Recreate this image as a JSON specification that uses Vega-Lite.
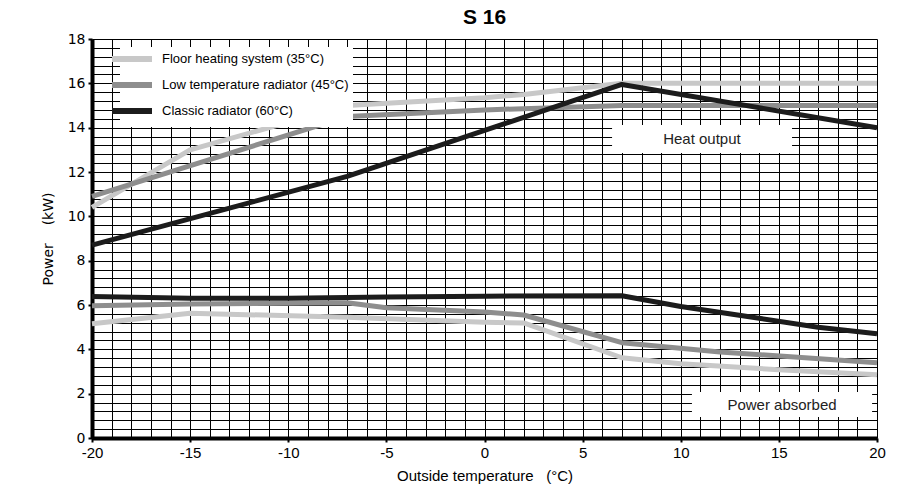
{
  "$schema": "https://vega.github.io/schema/vega-lite/v6.json",
  "width": 785,
  "height": 399,
  "autosize": {"type": "none"},
  "padding": {"left": 92, "top": 39, "right": 27, "bottom": 63},
  "background": "white",
  "title": {"text": "S 16", "font": "Liberation Sans", "fontSize": 21, "fontWeight": "bold", "anchor": "middle", "offset": 4, "color": "black"},
  "config": {"view": {"stroke": null}},
  "data": {"values": [
    {"series": "Floor heating system (35°C)", "kind": "Heat output", "t": -20, "p": 10.4},
    {"series": "Floor heating system (35°C)", "kind": "Heat output", "t": -15, "p": 13.0},
    {"series": "Floor heating system (35°C)", "kind": "Heat output", "t": -7, "p": 15.0},
    {"series": "Floor heating system (35°C)", "kind": "Heat output", "t": 0, "p": 15.35},
    {"series": "Floor heating system (35°C)", "kind": "Heat output", "t": 2, "p": 15.5},
    {"series": "Floor heating system (35°C)", "kind": "Heat output", "t": 7, "p": 16.0},
    {"series": "Floor heating system (35°C)", "kind": "Heat output", "t": 20, "p": 16.0},
    {"series": "Floor heating system (35°C)", "kind": "Power absorbed", "t": -20, "p": 5.15},
    {"series": "Floor heating system (35°C)", "kind": "Power absorbed", "t": -15, "p": 5.63},
    {"series": "Floor heating system (35°C)", "kind": "Power absorbed", "t": -7, "p": 5.45},
    {"series": "Floor heating system (35°C)", "kind": "Power absorbed", "t": 0, "p": 5.22},
    {"series": "Floor heating system (35°C)", "kind": "Power absorbed", "t": 2, "p": 5.19},
    {"series": "Floor heating system (35°C)", "kind": "Power absorbed", "t": 7, "p": 3.62},
    {"series": "Floor heating system (35°C)", "kind": "Power absorbed", "t": 10, "p": 3.35},
    {"series": "Floor heating system (35°C)", "kind": "Power absorbed", "t": 15, "p": 3.08},
    {"series": "Floor heating system (35°C)", "kind": "Power absorbed", "t": 20, "p": 2.85},
    {"series": "Low temperature radiator (45°C)", "kind": "Heat output", "t": -20, "p": 10.9},
    {"series": "Low temperature radiator (45°C)", "kind": "Heat output", "t": -7, "p": 14.5},
    {"series": "Low temperature radiator (45°C)", "kind": "Heat output", "t": 0, "p": 14.8},
    {"series": "Low temperature radiator (45°C)", "kind": "Heat output", "t": 7, "p": 15.0},
    {"series": "Low temperature radiator (45°C)", "kind": "Heat output", "t": 20, "p": 15.0},
    {"series": "Low temperature radiator (45°C)", "kind": "Power absorbed", "t": -20, "p": 5.97},
    {"series": "Low temperature radiator (45°C)", "kind": "Power absorbed", "t": -15, "p": 6.05},
    {"series": "Low temperature radiator (45°C)", "kind": "Power absorbed", "t": -7, "p": 6.1},
    {"series": "Low temperature radiator (45°C)", "kind": "Power absorbed", "t": -5, "p": 5.88},
    {"series": "Low temperature radiator (45°C)", "kind": "Power absorbed", "t": 0, "p": 5.68},
    {"series": "Low temperature radiator (45°C)", "kind": "Power absorbed", "t": 2, "p": 5.55},
    {"series": "Low temperature radiator (45°C)", "kind": "Power absorbed", "t": 7, "p": 4.3},
    {"series": "Low temperature radiator (45°C)", "kind": "Power absorbed", "t": 12, "p": 3.88},
    {"series": "Low temperature radiator (45°C)", "kind": "Power absorbed", "t": 20, "p": 3.4},
    {"series": "Classic radiator (60°C)", "kind": "Heat output", "t": -20, "p": 8.7},
    {"series": "Classic radiator (60°C)", "kind": "Heat output", "t": -7, "p": 11.8},
    {"series": "Classic radiator (60°C)", "kind": "Heat output", "t": 7, "p": 15.95},
    {"series": "Classic radiator (60°C)", "kind": "Heat output", "t": 20, "p": 14.0},
    {"series": "Classic radiator (60°C)", "kind": "Power absorbed", "t": -20, "p": 6.38},
    {"series": "Classic radiator (60°C)", "kind": "Power absorbed", "t": -15, "p": 6.3},
    {"series": "Classic radiator (60°C)", "kind": "Power absorbed", "t": -10, "p": 6.3},
    {"series": "Classic radiator (60°C)", "kind": "Power absorbed", "t": -5, "p": 6.36},
    {"series": "Classic radiator (60°C)", "kind": "Power absorbed", "t": 0, "p": 6.4},
    {"series": "Classic radiator (60°C)", "kind": "Power absorbed", "t": 7, "p": 6.42},
    {"series": "Classic radiator (60°C)", "kind": "Power absorbed", "t": 10, "p": 5.93},
    {"series": "Classic radiator (60°C)", "kind": "Power absorbed", "t": 14, "p": 5.4},
    {"series": "Classic radiator (60°C)", "kind": "Power absorbed", "t": 17, "p": 5.0},
    {"series": "Classic radiator (60°C)", "kind": "Power absorbed", "t": 20, "p": 4.7}
  ]},
  "layer": [
    {
      "mark": {"type": "line", "strokeWidth": 5, "strokeJoin": "round", "strokeCap": "butt"},
      "encoding": {
        "x": {"field": "t", "type": "quantitative",
          "scale": {"domain": [-20, 20], "nice": false, "zero": false},
          "axis": {
            "values": [-20,-19,-18,-17,-16,-15,-14,-13,-12,-11,-10,-9,-8,-7,-6,-5,-4,-3,-2,-1,0,1,2,3,4,5,6,7,8,9,10,11,12,13,14,15,16,17,18,19,20],
            "tickCount": 200,
            "grid": true, "gridColor": "black", "gridWidth": 1, "gridOpacity": 1,
            "domainColor": "black", "domainWidth": 4,
            "tickColor": "black", "tickSize": 4, "tickWidth": 2,
            "tickOpacity": {"condition": {"test": "datum.value % 5 == 0", "value": 1}, "value": 0},
            "labelExpr": "datum.value % 5 == 0 ? toString(datum.value) : ''",
            "labelFont": "Liberation Sans", "labelFontSize": 15, "labelColor": "black", "labelPadding": 3,
            "labelOverlap": false, "labelFlush": false,
            "title": "Outside temperature\u00a0\u00a0\u00a0(°C)", "titleFont": "Liberation Sans", "titleFontSize": 15, "titleFontWeight": "normal", "titleColor": "black", "titlePadding": 8
          }
        },
        "y": {"field": "p", "type": "quantitative",
          "scale": {"domain": [0, 18], "nice": false},
          "axis": {
            "values": [0,0.4,0.8,1.2,1.6,2,2.4,2.8,3.2,3.6,4,4.4,4.8,5.2,5.6,6,6.4,6.8,7.2,7.6,8,8.4,8.8,9.2,9.6,10,10.4,10.8,11.2,11.6,12,12.4,12.8,13.2,13.6,14,14.4,14.8,15.2,15.6,16,16.4,16.8,17.2,17.6,18],
            "tickCount": 200,
            "grid": true, "gridColor": "black", "gridWidth": 1, "gridOpacity": 1,
            "domainColor": "black", "domainWidth": 4,
            "tickColor": "black", "tickSize": 4, "tickWidth": 2,
            "tickOpacity": {"condition": {"test": "datum.value % 2 == 0", "value": 1}, "value": 0},
            "labelExpr": "datum.value % 2 == 0 ? toString(datum.value) : ''",
            "labelFont": "DejaVu Sans", "labelFontSize": 14, "labelColor": "black", "labelPadding": 3,
            "labelOverlap": false, "labelFlush": false,
            "title": "Power\u00a0\u00a0\u00a0\u00a0(kW)", "titleFont": "DejaVu Sans", "titleFontSize": 14, "titleFontWeight": "normal", "titleColor": "black", "titlePadding": 12
          }
        },
        "color": {"field": "series", "type": "nominal",
          "scale": {"domain": ["Floor heating system (35°C)", "Low temperature radiator (45°C)", "Classic radiator (60°C)"], "range": ["#c8c8c8", "#8e8e8e", "#1c1c1c"]},
          "legend": {
            "title": null, "orient": "none", "legendX": 28, "legendY": 8,
            "symbolType": "M-4,0H4", "symbolSize": 100, "symbolStrokeWidth": 6,
            "labelFont": "Liberation Sans", "labelFontSize": 13, "labelColor": "black", "labelOffset": 22, "labelLimit": 400,
            "rowPadding": 2, "padding": 4, "fillColor": "white"
          }
        },
        "detail": {"field": "kind"}
      }
    },
    {
      "data": {"values": [{}]},
      "mark": {"type": "rect", "fill": "white"},
      "encoding": {
        "x": {"datum": 6.5}, "x2": {"datum": 15.67},
        "y": {"datum": 12.86}, "y2": {"datum": 14.12}
      }
    },
    {
      "data": {"values": [{}]},
      "mark": {"type": "rect", "fill": "white"},
      "encoding": {
        "x": {"datum": 10.57}, "x2": {"datum": 19.75},
        "y": {"datum": 0.95}, "y2": {"datum": 2.07}
      }
    },
    {
      "data": {"values": [{}]},
      "mark": {"type": "text", "font": "Liberation Sans", "fontSize": 15, "fill": "#222222", "align": "center", "baseline": "middle"},
      "encoding": {"x": {"datum": 11.08}, "y": {"datum": 13.49}, "text": {"value": "Heat output"}}
    },
    {
      "data": {"values": [{}]},
      "mark": {"type": "text", "font": "Liberation Sans", "fontSize": 15, "fill": "#222222", "align": "center", "baseline": "middle"},
      "encoding": {"x": {"datum": 15.16}, "y": {"datum": 1.49}, "text": {"value": "Power absorbed"}}
    }
  ]
}
